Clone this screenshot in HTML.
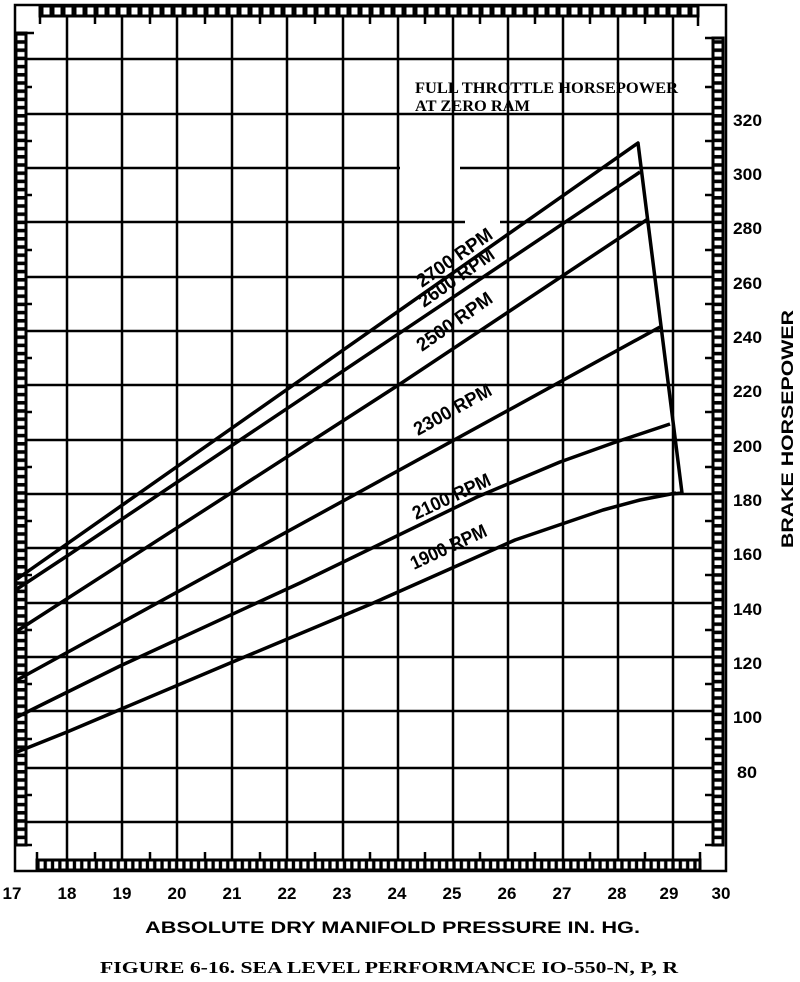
<!DOCTYPE html>
<html><head><meta charset="utf-8"><style>
html,body{margin:0;padding:0;background:#fff;}
svg{display:block;}
.ax{font-family:"Liberation Sans",Arial,sans-serif;font-weight:bold;font-size:17px;fill:#000;}
.lb{font-family:"Liberation Sans",Arial,sans-serif;font-weight:bold;font-size:19px;fill:#000;}
.sf{font-family:"Liberation Serif",serif;font-weight:bold;fill:#000;}
</style></head><body>
<svg width="800" height="982" viewBox="0 0 800 982" xmlns="http://www.w3.org/2000/svg">
<defs>
<pattern id="pv" x="0" y="33" width="20" height="8.2" patternUnits="userSpaceOnUse">
<rect x="0" y="0" width="20" height="8.2" fill="#000"/>
<rect x="0" y="2.6" width="20" height="4.6" fill="#fff"/>
</pattern>
<pattern id="pt" x="40" y="0" width="11" height="20" patternUnits="userSpaceOnUse">
<rect x="0" y="0" width="11" height="20" fill="#000"/>
<rect x="3.5" y="0" width="6" height="20" fill="#fff"/>
</pattern>
<pattern id="pb" x="37" y="0" width="7.3" height="20" patternUnits="userSpaceOnUse">
<rect x="0" y="0" width="7.3" height="20" fill="#000"/>
<rect x="2.6" y="0" width="4" height="20" fill="#fff"/>
</pattern>
</defs>
<g stroke="#000" stroke-width="2.5" fill="none">
<path d="M15 5 H726 V871 H15 Z"/>
<path d="M67 15 V870 M122 15 V870 M177 15 V870 M232 15 V870 M287 15 V870 M343 15 V870 M398 15 V870 M453 15 V870 M508 15 V870 M563 15 V870 M618 15 V870 M673 15 V870"/>
<path d="M25 59 H713 M25 114 H713 M25 168 H400 M460 168 H713 M25 222 H465 M500 222 H713 M25 277 H713 M25 331 H713 M25 385 H713 M25 440 H713 M25 494 H713 M25 548 H713 M25 603 H713 M25 657 H713 M25 711 H713 M25 768 H713 M25 822 H713"/>
</g>
<rect x="16" y="33" width="10" height="812" fill="url(#pv)" stroke="#000" stroke-width="3"/>
<rect x="713" y="38" width="10" height="807" fill="url(#pv)" stroke="#000" stroke-width="3"/>
<rect x="40" y="6" width="658" height="10" fill="url(#pt)" stroke="#000" stroke-width="3"/>
<rect x="37" y="860" width="663" height="10" fill="url(#pb)" stroke="#000" stroke-width="3"/>
<g stroke="#000" stroke-width="2.5">
<path d="M26 33 H34 M26 87 H32 M26 141 H32 M26 195 H32 M26 250 H32 M26 304 H32 M26 358 H32 M26 412 H32 M26 467 H32 M26 521 H32 M26 575 H32 M26 630 H32 M26 684 H32 M26 739 H32 M26 795 H32 M26 845 H32"/>
<path d="M705 38 H713 M705 87 H713 M705 141 H713 M705 195 H713 M705 250 H713 M705 304 H713 M705 358 H713 M705 412 H713 M705 467 H713 M705 521 H713 M705 575 H713 M705 630 H713 M705 684 H713 M705 739 H713 M705 795 H713 M705 845 H713"/>
<path d="M40 16 V24 M95 16 V24 M150 16 V24 M205 16 V24 M260 16 V24 M315 16 V24 M370 16 V24 M425 16 V24 M480 16 V24 M535 16 V24 M590 16 V24 M645 16 V24 M698 16 V26"/>
<path d="M37 852 V860 M95 852 V860 M150 852 V860 M205 852 V860 M260 852 V860 M315 852 V860 M370 852 V860 M425 852 V860 M480 852 V860 M535 852 V860 M590 852 V860 M645 852 V860 M700 852 V860"/>
</g>
<g stroke="#000" stroke-width="3.5" fill="none" stroke-linejoin="round">
<path d="M17 579 L638 143 L682 493 L672 494"/>
<path d="M17 589 L67 556 L640 172"/>
<path d="M17 631 L400 384 L648 219"/>
<path d="M17 680 L660 327"/>
<path d="M17 717 L120 666 L300 583 L477 497 L560 462 L613 443 L670 424"/>
<path d="M17 752 L67 732 L242 658 L371 604 L515 540 L603 510 L640 500 L676 493"/>
</g>
<text class="sf" x="415" y="93" font-size="16" textLength="263" lengthAdjust="spacingAndGlyphs">FULL THROTTLE HORSEPOWER</text>
<text class="sf" x="415" y="111" font-size="16" textLength="115" lengthAdjust="spacingAndGlyphs">AT ZERO RAM</text>
<g class="lb">
<text transform="translate(422,288) rotate(-35)" textLength="88" lengthAdjust="spacingAndGlyphs">2700 RPM</text>
<text transform="translate(424,308) rotate(-35)" textLength="88" lengthAdjust="spacingAndGlyphs">2600 RPM</text>
<text transform="translate(422,352) rotate(-35)" textLength="88" lengthAdjust="spacingAndGlyphs">2500 RPM</text>
<text transform="translate(418,436) rotate(-29)" textLength="86" lengthAdjust="spacingAndGlyphs">2300 RPM</text>
<text transform="translate(416,520) rotate(-25)" textLength="84" lengthAdjust="spacingAndGlyphs">2100 RPM</text>
<text transform="translate(414,570) rotate(-25)" textLength="82" lengthAdjust="spacingAndGlyphs">1900 RPM</text>
</g>
<g class="ax" font-size="18">
<text x="733" y="126" textLength="29" lengthAdjust="spacingAndGlyphs">320</text>
<text x="733" y="180" textLength="29" lengthAdjust="spacingAndGlyphs">300</text>
<text x="733" y="234" textLength="29" lengthAdjust="spacingAndGlyphs">280</text>
<text x="733" y="289" textLength="29" lengthAdjust="spacingAndGlyphs">260</text>
<text x="733" y="343" textLength="29" lengthAdjust="spacingAndGlyphs">240</text>
<text x="733" y="397" textLength="29" lengthAdjust="spacingAndGlyphs">220</text>
<text x="733" y="452" textLength="29" lengthAdjust="spacingAndGlyphs">200</text>
<text x="733" y="506" textLength="29" lengthAdjust="spacingAndGlyphs">180</text>
<text x="733" y="560" textLength="29" lengthAdjust="spacingAndGlyphs">160</text>
<text x="733" y="615" textLength="29" lengthAdjust="spacingAndGlyphs">140</text>
<text x="733" y="669" textLength="29" lengthAdjust="spacingAndGlyphs">120</text>
<text x="733" y="723" textLength="29" lengthAdjust="spacingAndGlyphs">100</text>
<text x="737" y="778" textLength="20" lengthAdjust="spacingAndGlyphs">80</text>
</g>
<text class="ax" font-size="20" transform="translate(793,429) rotate(-90)" text-anchor="middle" textLength="238" lengthAdjust="spacingAndGlyphs">BRAKE HORSEPOWER</text>
<g class="ax" text-anchor="middle">
<text x="12" y="899">17</text>
<text x="67" y="899">18</text>
<text x="122" y="899">19</text>
<text x="177" y="899">20</text>
<text x="232" y="899">21</text>
<text x="287" y="899">22</text>
<text x="342" y="899">23</text>
<text x="397" y="899">24</text>
<text x="452" y="899">25</text>
<text x="507" y="899">26</text>
<text x="562" y="899">27</text>
<text x="617" y="899">28</text>
<text x="669" y="899">29</text>
<text x="721" y="899">30</text>
</g>
<text class="ax" font-size="21" x="145" y="933" textLength="495" lengthAdjust="spacingAndGlyphs">ABSOLUTE DRY MANIFOLD PRESSURE IN. HG.</text>
<text class="sf" font-size="17" x="100" y="973" textLength="578" lengthAdjust="spacingAndGlyphs">FIGURE 6-16. SEA LEVEL PERFORMANCE IO-550-N, P, R</text>
</svg>
</body></html>
